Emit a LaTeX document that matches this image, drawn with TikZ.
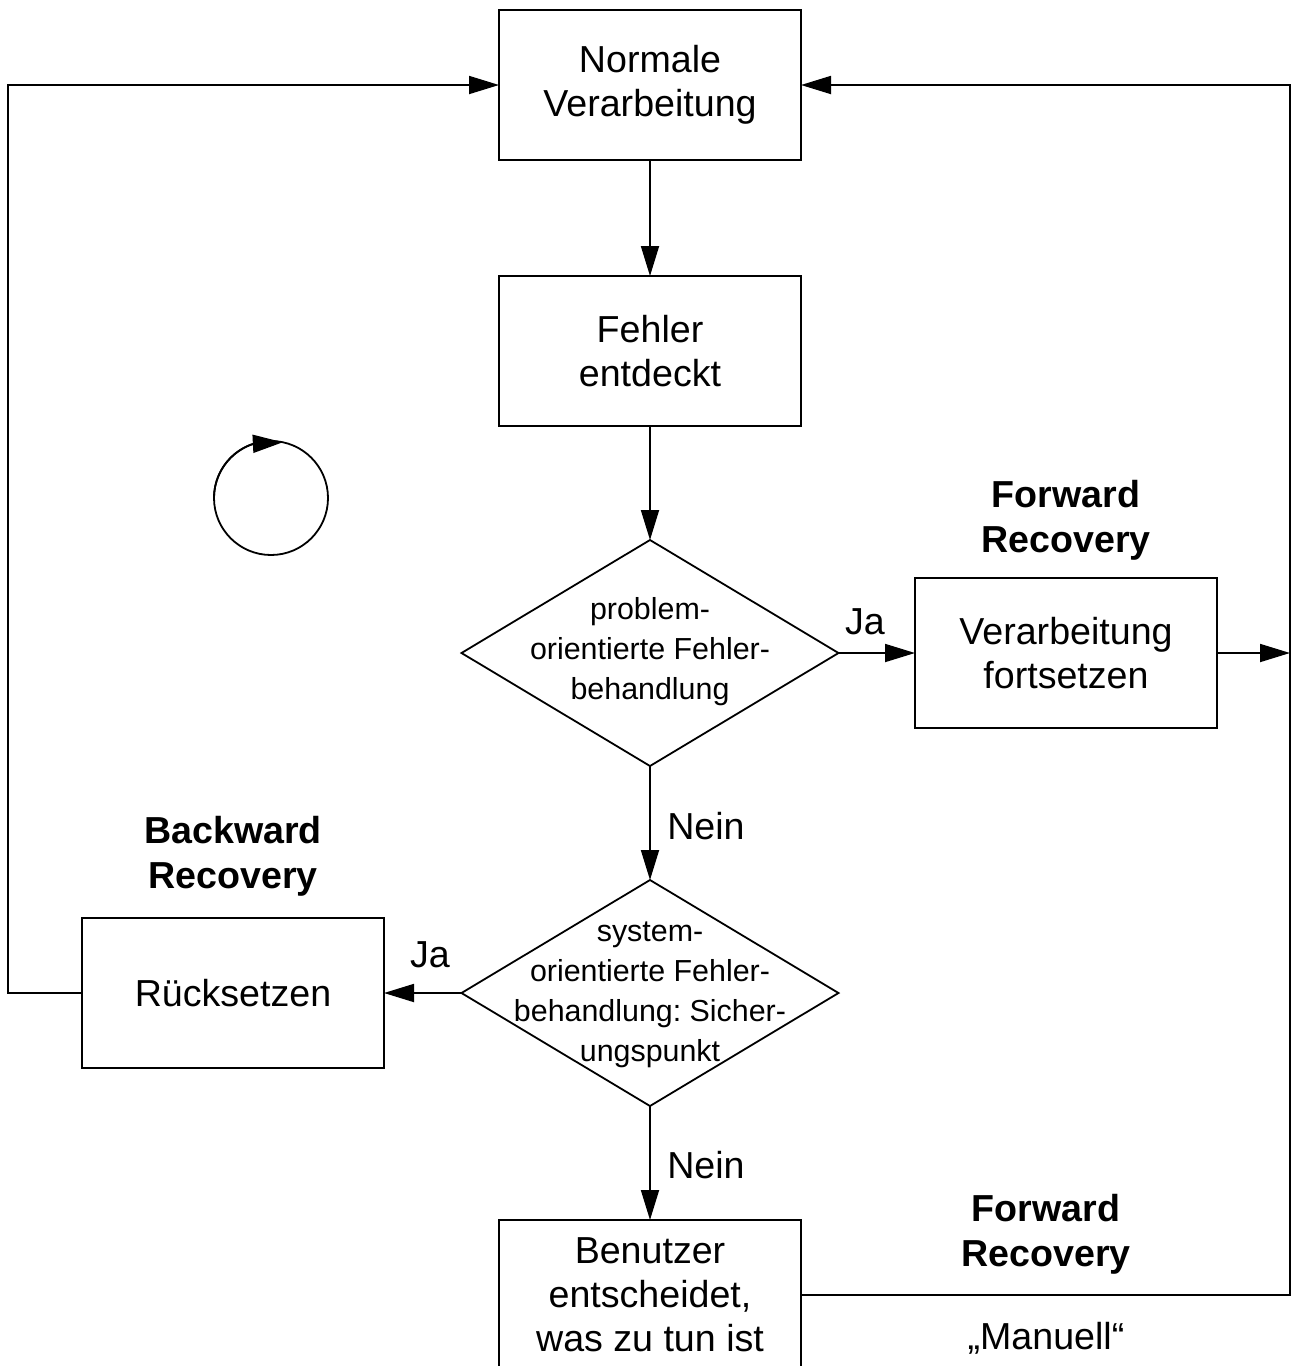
\documentclass[tikz,border=0pt]{standalone}
\usepackage{fontspec}
\setmainfont{Liberation Sans}
\frenchspacing
\usetikzlibrary{arrows.meta,bending,shapes.geometric}
\begin{document}
\begin{tikzpicture}[x=1pt,y=-1pt,
  lw/.style={line width=1.8pt},
  arr/.style={lw,-{Triangle[length=30pt,width=18pt]}},
  box/.style={draw,lw,rectangle,minimum width=302pt,minimum height=150pt,inner sep=0pt,outer sep=0pt,align=center,font=\fontsize{37.6}{44}\selectfont},
  dia/.style={draw,lw,diamond,minimum width=377pt,minimum height=226pt,inner sep=0pt,outer sep=0pt},
  dtext/.style={align=center,inner sep=0pt,font=\fontsize{30.4}{40}\selectfont},
  lbl/.style={inner sep=0pt,font=\fontsize{37.6}{44}\selectfont},
  blbl/.style={inner sep=0pt,align=center,font=\fontsize{37.6}{45}\selectfont\bfseries}]
\useasboundingbox (0,0) rectangle (1292,1366);
\clip (0,0) rectangle (1292,1366);
\node[box] (b1) at (650,85) {Normale\\Verarbeitung};
\node[box] (b2) at (650,351) {Fehler\\entdeckt};
\node[dia] (d1) at (650,653) {};
\node[dtext] (d1t) at (650,652) {problem-\\orientierte Fehler-\\behandlung};
\node[box] (b3) at (1066,653) {Verarbeitung\\fortsetzen};
\node[dia] (d2) at (650,993) {};
\node[dtext] (d2t) at (650,995) {system-\\orientierte Fehler-\\behandlung: Sicher-\\ungspunkt};
\node[box] (b4) at (233,993) {Rücksetzen};
\node[box] (b5) at (650,1295) {Benutzer\\entscheidet,\\was zu tun ist};
\coordinate (rtop) at (1290,85);
\coordinate (rbot) at (1290,1295);
\coordinate (ltop) at (8,85);
\coordinate (lbot) at (8,993);
\node[blbl] (fr1) at (1066,520) {Forward\\Recovery};
\node[blbl] (br) at (233,856) {Backward\\Recovery};
\node[blbl] (fr2) at (1046,1234) {Forward\\Recovery};
\node[lbl] (man) at (1046,1338) {„Manuell“};
\node[lbl] (ja1) at (865,622) {Ja};
\node[lbl] (ja2) at (430,955) {Ja};
\node[lbl] (n1) at (706,826) {Nein};
\node[lbl] (n2) at (706,1165) {Nein};
\draw[arr] (b1) -- (b2);
\draw[arr] (b2) -- (d1);
\draw[arr] (d1) -- (b3);
\draw[arr] (b3.east) -- (b3.east -| rtop);
\draw[arr] (d1) -- (d2);
\draw[arr] (d2) -- (b4);
\draw[arr] (d2) -- (b5);
\draw[arr] (b4.west) -- (lbot) -- (ltop) -- (b1.west);
\draw[arr] (b5.east) -- (rbot) -- (rtop) -- (b1.east);
\node[draw,circle,lw,minimum size=114pt,inner sep=0pt] (cyc) at (271,498) {};
\draw[lw,-{Triangle[length=30pt,width=18pt,flex]}] (cyc.center) ++(180:57) arc[start angle=180,end angle=282,radius=57];
\end{tikzpicture}
\end{document}
